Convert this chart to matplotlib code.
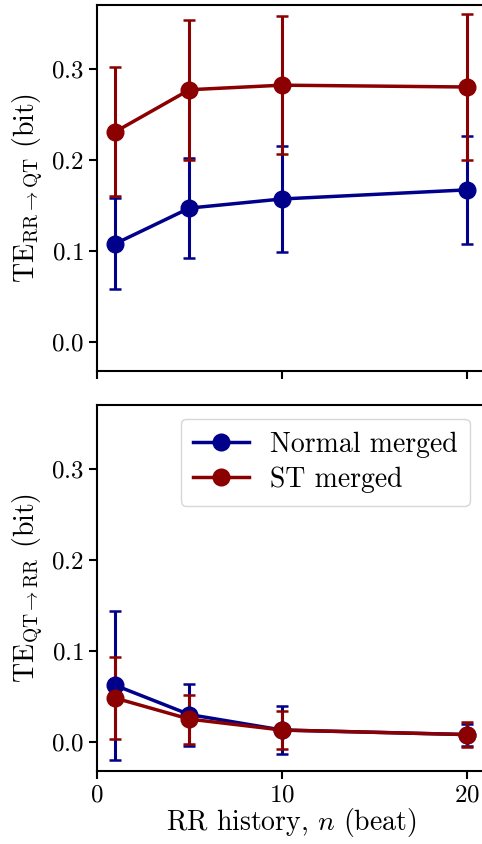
import matplotlib
matplotlib.use('Agg')
import matplotlib.pyplot as plt
import numpy as np

plt.rcParams['font.family'] = 'cmr10'
plt.rcParams['mathtext.fontset'] = 'cm'
plt.rcParams['axes.formatter.use_mathtext'] = True
plt.rcParams['font.size'] = 18

history = [1, 5, 10, 20]

# RR -> QT
normal_rr_qt = [0.108, 0.147, 0.157, 0.167]
normal_rr_qt_err = [0.050, 0.055, 0.058, 0.059]
st_rr_qt = [0.231, 0.277, 0.282, 0.280]
st_rr_qt_err = [0.071, 0.077, 0.076, 0.080]

# QT -> RR
normal_qt_rr = [0.062, 0.030, 0.013, 0.008]
normal_qt_rr_err = [0.082, 0.034, 0.026, 0.012]
st_qt_rr = [0.048, 0.025, 0.013, 0.008]
st_qt_rr_err = [0.045, 0.027, 0.021, 0.014]

blue = '#00008B'
red = '#8B0000'

fig = plt.figure(figsize=(4.82, 8.44), dpi=100)
ax1 = fig.add_axes([0.2012, 0.5604, 0.806, 0.4336])
ax2 = fig.add_axes([0.2012, 0.0865, 0.806, 0.4336])

style = dict(marker='o', markersize=12, linewidth=2.5, elinewidth=2.2,
             capsize=4.5, capthick=1.8)

ax1.errorbar(history, normal_rr_qt, yerr=normal_rr_qt_err, color=blue,
             label='Normal merged', **style)
ax1.errorbar(history, st_rr_qt, yerr=st_rr_qt_err, color=red,
             label='ST merged', **style)

c1 = ax2.errorbar(history, normal_qt_rr, yerr=normal_qt_rr_err, color=blue,
                  label='Normal merged', **style)
c2 = ax2.errorbar(history, st_qt_rr, yerr=st_qt_rr_err, color=red,
                  label='ST merged', **style)

for ax in (ax1, ax2):
    ax.set_xlim(0, 21)
    ax.set_ylim(-0.032, 0.37)
    ax.set_xticks([0, 10, 20])
    ax.set_yticks([0.0, 0.1, 0.2, 0.3])
    ax.tick_params(length=6, width=1.5)
    for s in ax.spines.values():
        s.set_linewidth(1.5)

ax1.set_xticklabels([])
ax1.set_ylabel(r'$\mathrm{TE}_{\mathrm{RR}\rightarrow\mathrm{QT}}$ (bit)', fontsize=20)
ax2.set_ylabel(r'$\mathrm{TE}_{\mathrm{QT}\rightarrow\mathrm{RR}}$ (bit)', fontsize=20)
ax2.set_xlabel(r'RR history, $n$ (beat)', fontsize=20, labelpad=0)
ax2.legend([c1[0], c2[0]], ['Normal merged', 'ST merged'], fontsize=20,
           loc='upper right', bbox_to_anchor=(0.96, 0.962), borderaxespad=0,
           labelspacing=0.32, borderpad=0.45, handletextpad=0.75)

fig.savefig('out.png', dpi=100)
